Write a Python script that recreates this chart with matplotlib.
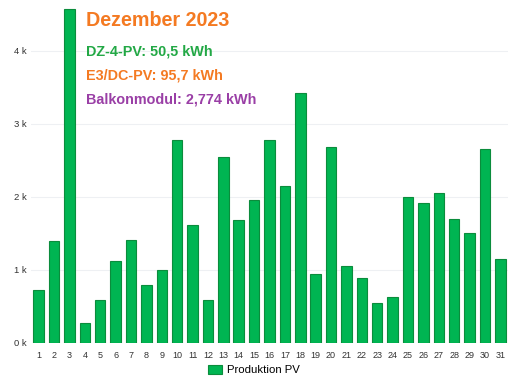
import matplotlib
matplotlib.use("Agg")
import matplotlib.pyplot as plt
import numpy as np

# Daily PV production, December 2023 (Wh)
days = list(range(1, 32))
production = [730, 1400, 4570, 270, 590, 1120, 1410, 790, 1000, 2780,
              1620, 590, 2550, 1680, 1950, 2770, 2150, 3420, 950, 2680,
              1050, 890, 550, 630, 1990, 1920, 2050, 1700, 1510, 2660, 1150]
ytick_vals = [0, 1000, 2000, 3000, 4000]
ytick_labels = ["0 k", "1 k", "2 k", "3 k", "4 k"]

title = "Dezember 2023"
info_lines = [("DZ-4-PV: 50,5 kWh", "#22a845"),
              ("E3/DC-PV: 95,7 kWh", "#f47a22"),
              ("Balkonmodul: 2,774 kWh", "#9a3fa6")]

BAR, EDGE = "#00b552", "#0b8c3c"

plt.rcParams["font.family"] = ["Liberation Sans", "DejaVu Sans"]
fig = plt.figure(figsize=(5.20, 3.82), dpi=100)
ax = fig.add_axes([31/520, 1 - 343/382, (508-31)/520, (343-3)/382])

x = np.array(days)
ax.bar(x, production, 0.68, color=BAR, edgecolor=EDGE, linewidth=0.8,
       label="Produktion PV", zorder=3)
ax.set_xlim(0.5, 31.5)
ax.set_ylim(0, 4650)
ax.set_xticks(x)
ax.set_xticklabels([str(d) for d in days], fontsize=6.5, color="#333333")
ax.set_yticks(ytick_vals)
ax.set_yticklabels(ytick_labels, fontsize=6.8, color="#333333")
ax.tick_params(axis="x", length=0, pad=6)
ax.tick_params(axis="y", length=0, pad=3)
ax.grid(axis="y", color="#eef0f3", linewidth=0.8, zorder=0)
for s in ax.spines.values():
    s.set_visible(False)

fig.text(86/520, 1 - 21/382, title, fontsize=14.2, fontweight="bold",
         color="#f47a22", va="center", ha="left")
for i, (txt, col) in enumerate(info_lines):
    fig.text(86/520, 1 - (52 + i*24)/382, txt, fontsize=10.4, fontweight="bold",
             color=col, va="center", ha="left")

fig.legend(loc="center", bbox_to_anchor=(254/520, 1 - 370/382), frameon=False,
           fontsize=8.2, handlelength=1.2, handleheight=0.9, handletextpad=0.5)

fig.savefig("out.png", dpi=100)
